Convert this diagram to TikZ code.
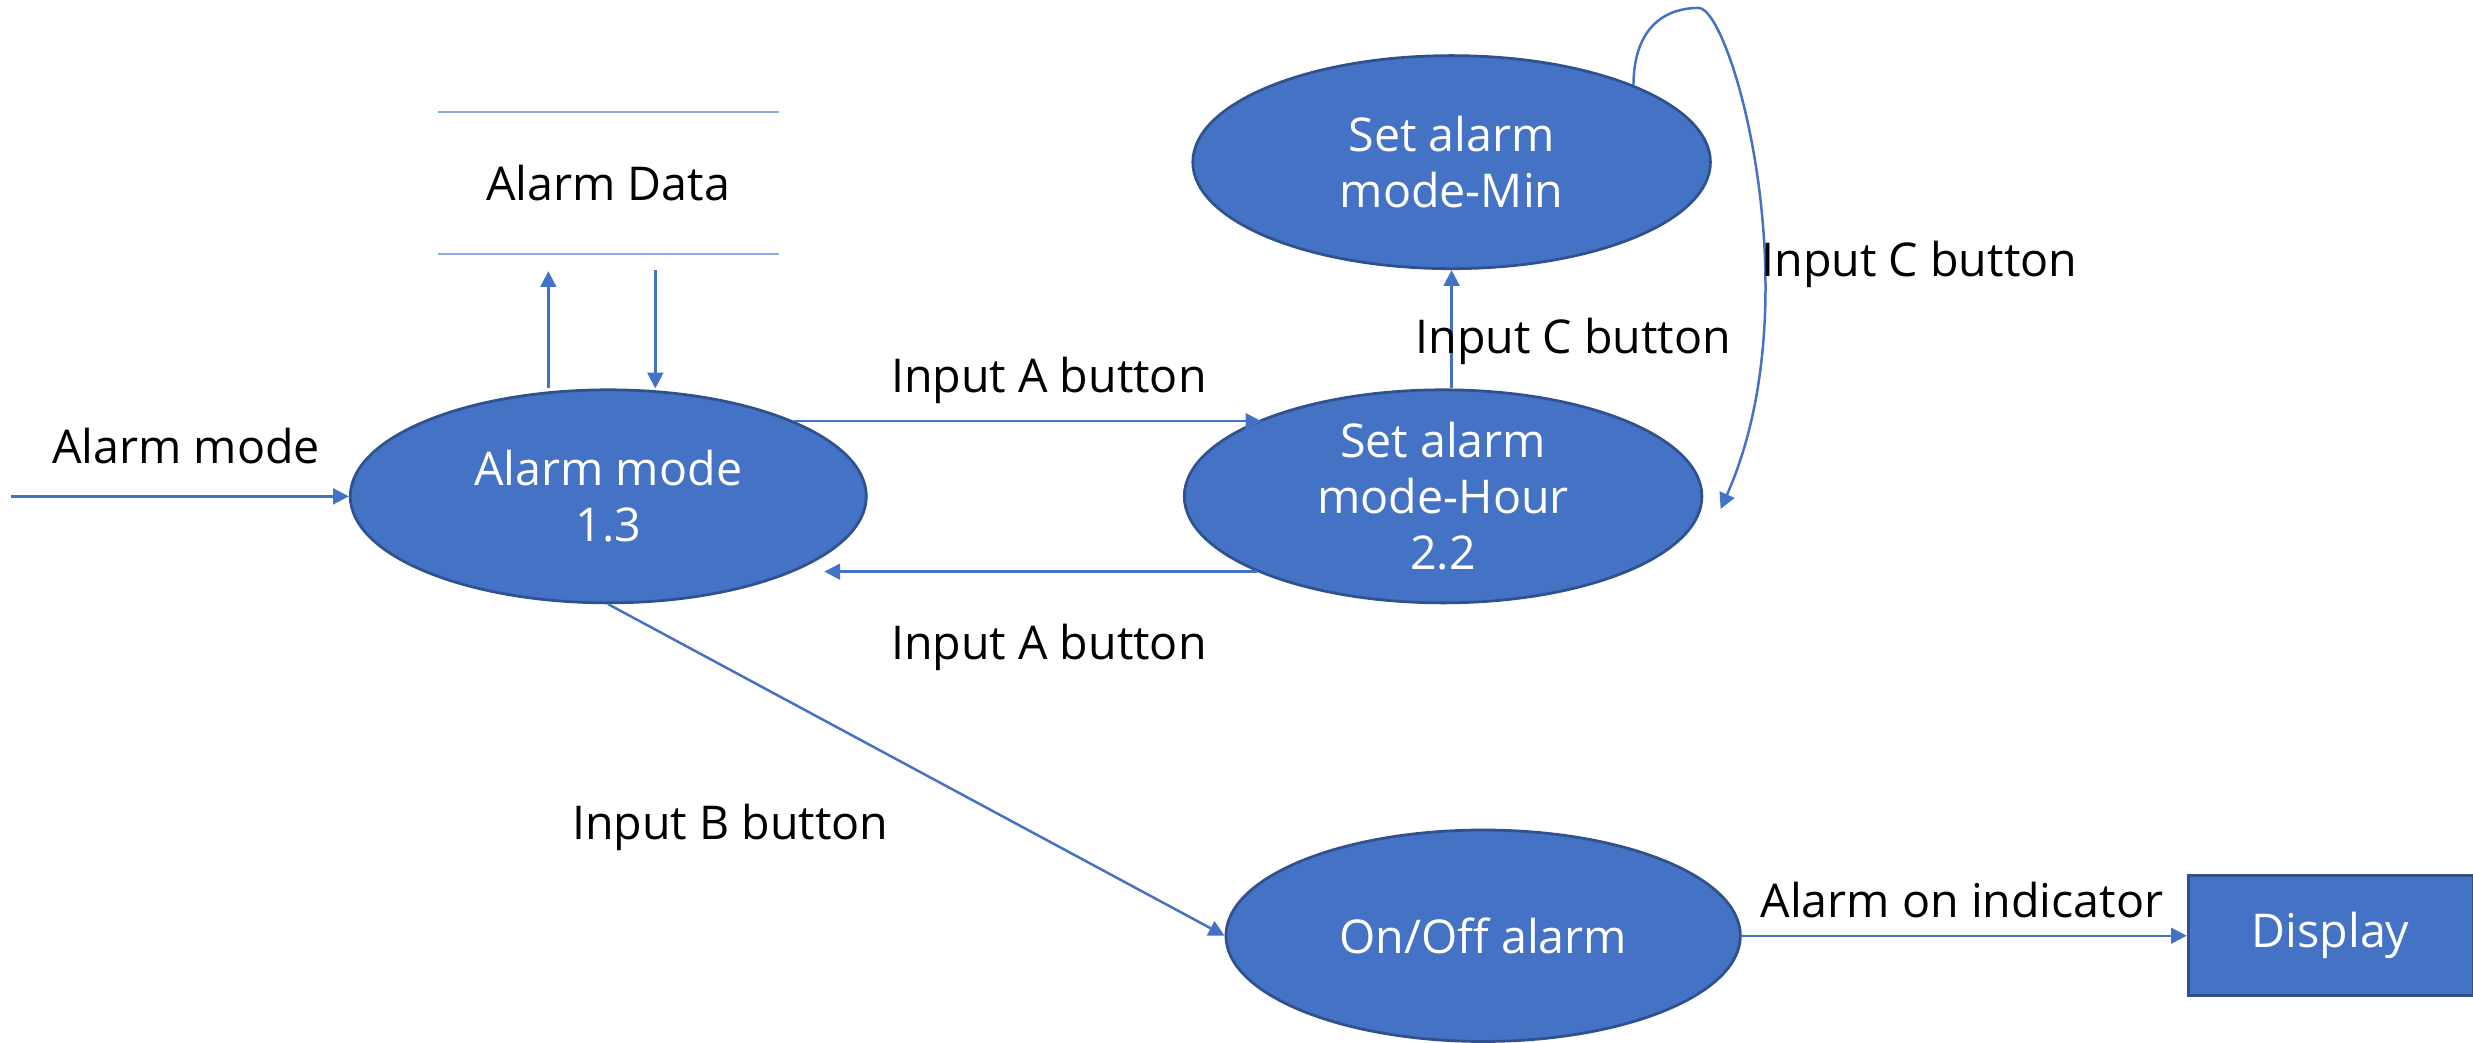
\documentclass[tikz,border=0pt]{standalone}
\usepackage{fontspec}
\setmainfont{Open Sans}
\usetikzlibrary{shapes.geometric,arrows.meta,positioning,calc}
\definecolor{procblue}{HTML}{4472C4}
\definecolor{procedge}{HTML}{2F528F}
\definecolor{storeline}{HTML}{8FAADC}

\begin{document}
\begin{tikzpicture}[x=0.01cm, y=-0.01cm,
    every node/.style={font=\fontsize{8.4}{10.1}\selectfont},
    proc/.style={ellipse, draw=procedge, line width=0.5pt, fill=procblue, text=white, align=center, inner sep=0pt, minimum width=3.27cm, minimum height=1.35cm},
    flow/.style={draw=procblue, line width=0.45pt, -{Triangle[width=0.1cm,length=0.1cm]}},
    lbl/.style={anchor=base}]
    \useasboundingbox (0,0) rectangle (1568,661.3);
    \node[proc] (alarm) at (385.7,314.7) {Alarm mode\\1.3};
    \node[proc, minimum width=3.28cm] (setmin) at (920.4,102.8) {Set alarm\\mode-Min};
    \node[proc, minimum width=3.28cm] (sethour) at (915,314.7) {Set alarm\\mode-Hour\\2.2};
    \node[proc, minimum width=3.26cm, minimum height=1.34cm] (onoff) at (940.4,593.3) {On/Off alarm};
    \node[fill=procblue, draw=procedge, line width=0.5pt, text=white, inner sep=0pt, minimum width=1.805cm, minimum height=0.76cm, right=2.82cm of onoff] (disp) {Display};
    \node[inner sep=0pt, minimum width=2.147cm, minimum height=0.884cm] (store) at (385.7,116) {Alarm Data};
    \draw[storeline, line width=0.45pt] (store.north west) -- (store.north east) (store.south west) -- (store.south east);

    \coordinate (src) at (7,314.7);
    \draw[flow] (src) -- (alarm.west);
    \node[lbl] at (118,294) {Alarm mode};
    \draw[flow] ([xshift=-3.8mm]alarm.north) -- ([xshift=-3.8mm, yshift=-1.1mm]store.south);
    \draw[flow] ([xshift=2.98mm, yshift=-1.03mm]store.south) -- ([xshift=2.98mm]alarm.north);
    \draw[flow] (alarm.22.5) -- (alarm.22.5 -| sethour.157.5);
    \node[lbl] at (665,249) {Input A button};
    \draw[flow, shorten >=0.19cm] (sethour.202.5) -- (sethour.202.5 -| alarm.-22.5);
    \node[lbl] at (665,418) {Input A button};
    \draw[flow] (sethour.north -| setmin.south) -- (setmin.south);
    \node[lbl] at (997.5,224) {Input C button};
    \coordinate (looptop) at (1077,5);
    \draw[flow] (setmin.23) .. controls (1036,15) and (1058,5) .. (looptop) .. controls (1098,5) and (1150,190) .. ([xshift=1.1mm, yshift=-0.8mm]sethour.east);
    \node[lbl] at (1217,175) {Input C button};
    \draw[flow] (alarm.south) -- (onoff.west);
    \node[lbl] at (463,532) {Input B button};
    \draw[flow] (onoff.east) -- (disp.west);
    \node[lbl] at (1244,582) {Alarm on indicator};
\end{tikzpicture}
\end{document}
